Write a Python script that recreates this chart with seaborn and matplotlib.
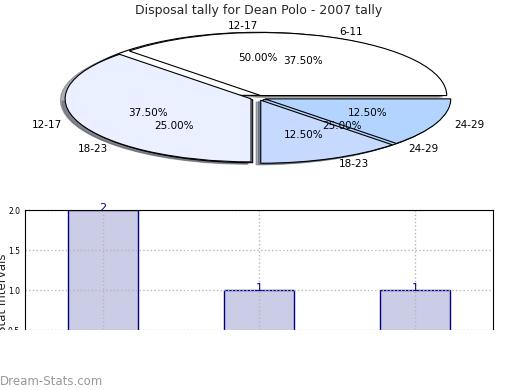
import numpy as np
import pandas as pd
import matplotlib
matplotlib.use("Agg")
import matplotlib.pyplot as plt
import seaborn as sns

# first pie / bar data (disposals per age interval)
tally_labels = ["12-17", "18-23", "24-29"]
tally_counts = [2, 1, 1]

# second pie
age_labels = ["6-11", "12-17", "18-23", "24-29"]
age_counts = [3, 3, 1, 1]

title = "Disposal tally for Dean Polo - 2007 tally"

sns.set_style("white")
plt.rcParams['font.family'] = ['DejaVu Sans']

fig = plt.figure(figsize=(5.2, 3.9), dpi=100)

# pie area (elliptical, aspect not equal)
ax_pie = fig.add_axes([0.049, 0.547, 0.894, 0.404])
pie_colors = ["#ffffff", "#eaf0ff", "#c6d9ff", "#b3d4ff"]
wp = dict(edgecolor="black", linewidth=0.8)
tp = dict(fontsize=7.5, color="black")
shadow = dict(ox=-0.018, oy=-0.018, shade=0.6)

ax_pie.pie(tally_counts, labels=tally_labels, autopct="%.2f%%",
           explode=[0.04] * len(tally_counts), shadow=shadow,
           colors=pie_colors[:1] + pie_colors[2:], wedgeprops=wp,
           textprops=tp, frame=False)
ax_pie.pie(age_counts, labels=age_labels, autopct="%.2f%%",
           explode=[0.04] * len(age_counts), shadow=shadow,
           colors=pie_colors, wedgeprops=wp, textprops=tp, frame=False)
ax_pie.set_aspect("auto")
ax_pie.set_xlim(-1.25, 1.25)
ax_pie.set_ylim(-1.25, 1.25)
ax_pie.axis("off")

fig.text(0.498, 0.974, title, ha="center", va="center", fontsize=9)

# bar chart
ax_bar = fig.add_axes([0.048, 0.051, 0.9, 0.41])
bar_df = pd.DataFrame({"interval": tally_labels, "count": tally_counts})
sns.barplot(data=bar_df, x="interval", y="count", ax=ax_bar, width=0.45,
            color="#cbcce6", saturation=1, edgecolor="#000080", linewidth=1)
ax_bar.bar_label(ax_bar.containers[0], color="#000080", fontsize=8, padding=-2)
ax_bar.set_xlim(-0.5, 2.5)
ax_bar.set_ylim(0, 2.0)
ax_bar.set_yticks([0, 0.5, 1.0, 1.5, 2.0])
ax_bar.tick_params(direction="in", length=3, labelsize=5.5, colors="black")
ax_bar.tick_params(axis="x", labelbottom=False)
ax_bar.grid(True, linestyle=":", color="#b8b8b8", linewidth=1)
ax_bar.set_axisbelow(False)
for s in ax_bar.spines.values():
    s.set_color("black")
    s.set_linewidth(0.8)
    s.set_zorder(5)
ax_bar.set_xlabel("")
ax_bar.set_ylabel("Stat Intervals", fontsize=8.5)
ax_bar.yaxis.set_label_coords(-0.034, 0.48)

# bottom of the chart is cut off in the original
fig.patches.append(plt.Rectangle((0, 0), 1, 0.154, transform=fig.transFigure,
                                 facecolor="white", edgecolor="none", zorder=10))
fig.text(0.0, 0.023, "Dream-Stats.com", ha="left", va="center",
         fontsize=8.5, color="#999999", zorder=11)

fig.savefig("out.png", dpi=100)
